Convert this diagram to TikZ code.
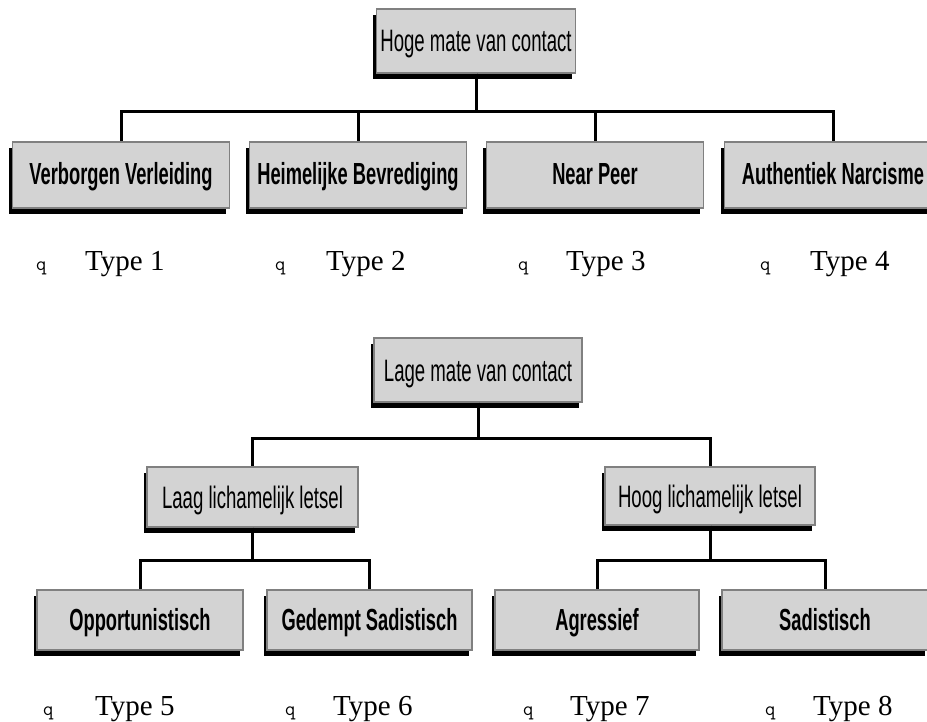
\documentclass[tikz,border=0pt]{standalone}
\usepackage{fontspec}
\setmainfont{Liberation Serif}
\newfontfamily\boxfont[FakeStretch=0.6]{Liberation Sans}
\usetikzlibrary{shadows}

\definecolor{boxgrey}{RGB}{211,211,211}
\definecolor{rimgrey}{RGB}{128,128,128}

\tikzset{
  box/.style={draw=rimgrey, fill=boxgrey, line width=1.2pt, inner sep=0pt,
    drop shadow={shadow xshift=-3.5pt, shadow yshift=-6pt, opacity=1, fill=black}},
  headbox/.style={box, text height=23pt, text depth=1pt, font=\boxfont\fontsize{31}{31}\selectfont},
  typebox/.style={box, text height=23pt, text depth=3pt, font=\boxfont\bfseries\fontsize{30.5}{30.5}\selectfont},
  conn/.style={line width=3pt},
  bullet/.style={anchor=base west, inner sep=0pt, font=\ttfamily\fontsize{20}{20}\selectfont},
  typetext/.style={anchor=base west, inner sep=0pt, font=\fontsize{29}{29}\selectfont}
}

\begin{document}
\begin{tikzpicture}[x=1pt, y=-1pt]
    \useasboundingbox (0,0) rectangle (927,722);
    \clip (0,0) rectangle (927,722);

    % hoge mate van contact
    \node[headbox, minimum width=199pt, minimum height=64pt] (hoge) at (476,41) {Hoge mate van contact};

    \node[typebox, minimum width=217pt, minimum height=66pt] (vv) at (121,175) {Verborgen Verleiding};
    \node[typebox, minimum width=217pt, minimum height=66pt] (hb) at (358,175) {Heimelijke Bevrediging};
    \node[typebox, minimum width=217pt, minimum height=66pt] (np) at (595,175) {Near Peer};
    \node[typebox, minimum width=217pt, minimum height=66pt] (an) at (833,175) {Authentiek Narcisme};

    \draw[conn] (hoge.south) -- ++(0,38) -| (vv.north);
    \draw[conn] (hoge.south) -- ++(0,38) -| (hb.north);
    \draw[conn] (hoge.south) -- ++(0,38) -| (np.north);
    \draw[conn] (hoge.south) -- ++(0,38) -| (an.north);

    \node[bullet] (q1) at (36,271) {q};
    \node[bullet] (q2) at (275,271) {q};
    \node[bullet] (q3) at (518,271) {q};
    \node[bullet] (q4) at (760,271) {q};
    \node[typetext] (t1) at (85,271) {Type 1};
    \node[typetext] (t2) at (326,271) {Type 2};
    \node[typetext] (t3) at (566,271) {Type 3};
    \node[typetext] (t4) at (810,271) {Type 4};

    % lage mate van contact
    \node[headbox, minimum width=208pt, minimum height=64pt] (lage) at (478,370) {Lage mate van contact};

    \node[headbox, minimum width=211pt, minimum height=60pt] (laag) at (252.5,497) {Laag lichamelijk letsel};
    \node[headbox, minimum width=210pt, minimum height=58pt] (hoog) at (710,496) {Hoog lichamelijk letsel};

    \draw[conn] (lage.south) -- ++(0,36) -| (laag.north);
    \draw[conn] (lage.south) -- ++(0,36) -| (hoog.north);

    \node[typebox, minimum width=206pt, minimum height=60pt] (opp) at (140,620) {Opportunistisch};
    \node[typebox, minimum width=205pt, minimum height=60pt] (gs) at (369.5,620) {Gedempt Sadistisch};
    \node[typebox, minimum width=204pt, minimum height=60pt] (agr) at (597,620) {Agressief};
    \node[typebox, minimum width=206pt, minimum height=60pt] (sad) at (825,620) {Sadistisch};

    \draw[conn] (laag.south) -- ++(0,33) -| (opp.north);
    \draw[conn] (laag.south) -- ++(0,33) -| (gs.north);
    \draw[conn] (hoog.south) -- ++(0,35) -| (agr.north);
    \draw[conn] (hoog.south) -- ++(0,35) -| (sad.north);

    \node[bullet] (q5) at (43,715) {q};
    \node[bullet] (q6) at (285,715) {q};
    \node[bullet] (q7) at (523,715) {q};
    \node[bullet] (q8) at (765,715) {q};
    \node[typetext] (t5) at (95,715) {Type 5};
    \node[typetext] (t6) at (333,715) {Type 6};
    \node[typetext] (t7) at (570,715) {Type 7};
    \node[typetext] (t8) at (813,715) {Type 8};

\end{tikzpicture}
\end{document}
